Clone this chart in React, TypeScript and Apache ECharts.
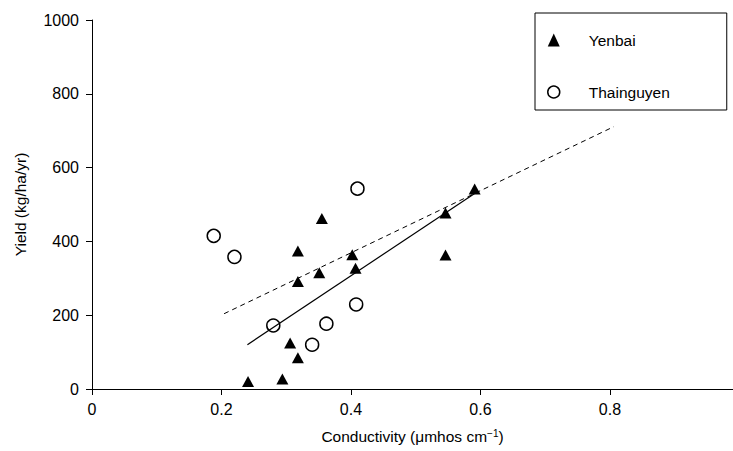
import React, { useEffect, useRef } from "react";
import * as echarts from "echarts";

const yenbaiX = [0.241, 0.294, 0.306, 0.318, 0.318, 0.318, 0.351, 0.355, 0.402, 0.407, 0.546, 0.546, 0.591];
const yenbaiY = [20, 27, 125, 85, 374, 291, 315, 462, 364, 327, 477, 363, 542];
const thaiX = [0.188, 0.22, 0.28, 0.34, 0.362, 0.408, 0.41];
const thaiY = [415, 358, 172, 120, 177, 229, 543];
const solidLineX = [0.24, 0.591];
const solidLineY = [120, 530];
const dashedLineX = [0.204, 0.806];
const dashedLineY = [204, 711];
const xTicks = [0, 0.2, 0.4, 0.6, 0.8];
const seriesNames = ["Yenbai", "Thainguyen"];

const FONT = "'Liberation Sans', Arial, sans-serif";

const pair = (xs: number[], ys: number[]) => xs.map((x, i) => [x, ys[i]]);

export default function App() {
  const ref = useRef<HTMLDivElement>(null);
  useEffect(() => {
    if (!ref.current) return;
    const chart = echarts.init(ref.current, null, { renderer: "svg" });
    chart.setOption({
      animation: false,
      backgroundColor: "#fff",
      textStyle: { fontFamily: FONT, color: "#000" },
      grid: { left: 92, right: 0, top: 20, bottom: 62 },
      legend: {
        data: seriesNames,
        orient: "vertical",
        left: 535,
        top: 13,
        borderColor: "#000",
        borderWidth: 1,
        padding: [19, 57, 10, 12],
        itemWidth: 12,
        itemHeight: 13,
        itemGap: 36,
        itemStyle: { borderWidth: 1.5 },
        textStyle: { fontFamily: FONT, fontSize: 15.5, color: "#000", lineHeight: 14, padding: [0, 0, 0, 24] },
        selectedMode: false,
      },
      xAxis: {
        type: "value",
        min: 0,
        max: 0.99,
        name: "Conductivity (μmhos cm{sup|−1})",
        nameLocation: "middle",
        nameGap: 38,
        nameTextStyle: {
          fontFamily: FONT,
          fontSize: 15.5,
          color: "#000",
          lineHeight: 18,
          rich: { sup: { fontSize: 10, fontFamily: FONT, color: "#000", lineHeight: 18, padding: [0, 0, 6, 0] } },
        },
        splitLine: { show: false },
        axisLine: { onZero: false, lineStyle: { color: "#000", width: 1 } },
        axisTick: { length: 6, lineStyle: { color: "#000" }, customValues: xTicks },
        axisLabel: { fontSize: 16, color: "#000", margin: 12, customValues: xTicks, fontFamily: FONT },
      },
      yAxis: {
        type: "value",
        min: 0,
        max: 1000,
        interval: 200,
        name: "Yield (kg/ha/yr)",
        nameLocation: "middle",
        nameGap: 64,
        nameTextStyle: { fontFamily: FONT, fontSize: 15.5, color: "#000" },
        splitLine: { show: false },
        axisLine: { show: true, onZero: false, lineStyle: { color: "#000", width: 1 } },
        axisTick: { show: true, length: 6, lineStyle: { color: "#000" } },
        axisLabel: {
          fontSize: 16,
          color: "#000",
          margin: 13,
          padding: [0, 0, 8, 0],
          fontFamily: FONT,
          formatter: (v: number) => String(v),
        },
      },
      series: [
        {
          type: "line",
          name: "fitYenbai",
          data: pair(solidLineX, solidLineY),
          showSymbol: false,
          lineStyle: { color: "#000", width: 1.2 },
          silent: true,
        },
        {
          type: "line",
          name: "fitAll",
          data: pair(dashedLineX, dashedLineY),
          showSymbol: false,
          lineStyle: { color: "#000", width: 1, type: [5, 4] },
          silent: true,
        },
        {
          type: "scatter",
          name: seriesNames[0],
          data: pair(yenbaiX, yenbaiY),
          symbol: "triangle",
          symbolSize: [12, 11],
          itemStyle: { color: "#000", borderWidth: 0, opacity: 1 },
        },
        {
          type: "scatter",
          name: seriesNames[1],
          data: pair(thaiX, thaiY),
          symbol: "circle",
          symbolSize: 13,
          itemStyle: { color: "#fff", borderColor: "#000", borderWidth: 1.5, opacity: 1 },
        },
      ],
    });
    return () => chart.dispose();
  }, []);
  return <div ref={ref} style={{ position: "fixed", left: 0, top: 0, width: 733, height: 451 }} />;
}
